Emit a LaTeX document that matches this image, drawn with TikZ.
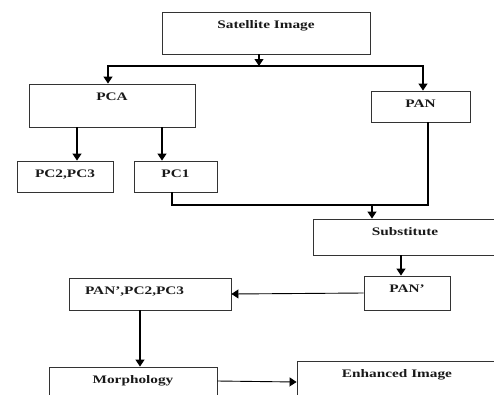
\documentclass[tikz,border=0pt]{standalone}
\usepackage{fontspec}
\setmainfont{Liberation Serif}[FakeStretch=1.33]
\usetikzlibrary{arrows.meta}

\begin{document}
\begin{tikzpicture}[x=1pt,y=-1pt,>={Triangle[length=7pt,width=9pt]},
        blk/.style={draw=black!80, line width=0.9pt, rectangle, inner xsep=2pt, inner ysep=0pt,
                text height=16pt, text=black!90, font=\fontsize{11.5}{13}\selectfont\bfseries},
        link/.style={line width=1.2pt}]
        \path[use as bounding box, clip] (0,0) rectangle (494,394);

        \node (sat) [blk, minimum width=208pt, text depth=26pt] at (266,33) {Satellite Image};
        \node (pca) [blk, minimum width=166pt, text depth=27pt] at (112,105.5) {PCA};
        \node (pan) [blk, minimum width=99pt, text depth=15pt] at (420.5,106.5) {PAN};
        \node (pc23) [blk, minimum width=96pt, text depth=15pt] at (65,176.5) {PC2,PC3};
        \node (pc1) [blk, minimum width=83pt, text depth=15pt] at (175.5,176.5) {PC1};
        \node (subst) [blk, minimum width=184pt, text depth=20pt] at (405,237) {Substitute};
        \node (panp) [blk, minimum width=86pt, text depth=18pt] at (407,293) {PAN'};
        \node (pps) [blk, inner xsep=16pt, text width=130pt, align=left, text depth=16pt] at (150,294) {PAN',PC2,PC3};
        \node (morph) [blk, minimum width=168pt, text depth=18pt] at (133,384) {Morphology};
        \node (enh) [blk, minimum width=200pt, text depth=24pt] at (397,381) {Enhanced Image};

        \coordinate (fork) at (259,66);
        \draw[link,->] (sat.south -| fork) -- (fork);
        \draw[link,->] (fork) -| ([xshift=-4pt]pca.north);
        \draw[link,->] (fork) -| ([xshift=2.5pt]pan.north);

        \coordinate (pcaL) at ([xshift=-35pt]pca.south);
        \coordinate (pcaR) at ([xshift=50pt]pca.south);
        \draw[link,->] (pcaL) -- (pcaL |- pc23.north);
        \draw[link,->] (pcaR) -- (pcaR |- pc1.north);

        \coordinate (join) at (372,205);
        \draw[link] ([xshift=-3.5pt]pc1.south) |- (join);
        \draw[link] ([xshift=7.5pt]pan.south) |- (join);
        \draw[link,->] (join) -- (join |- subst.north);

        \draw[link,->] ([xshift=-4pt]subst.south) -- ([xshift=-6pt]panp.north);
        \draw[line width=0.9pt,->] (panp.west) -- (pps.east);
        \draw[link,->] ([xshift=-10pt]pps.south) -- ([xshift=7pt]morph.north);
        \draw[line width=0.9pt,->] ([yshift=3pt]morph.east) -- ([yshift=-1pt]enh.west);
    \end{tikzpicture}
\end{document}
